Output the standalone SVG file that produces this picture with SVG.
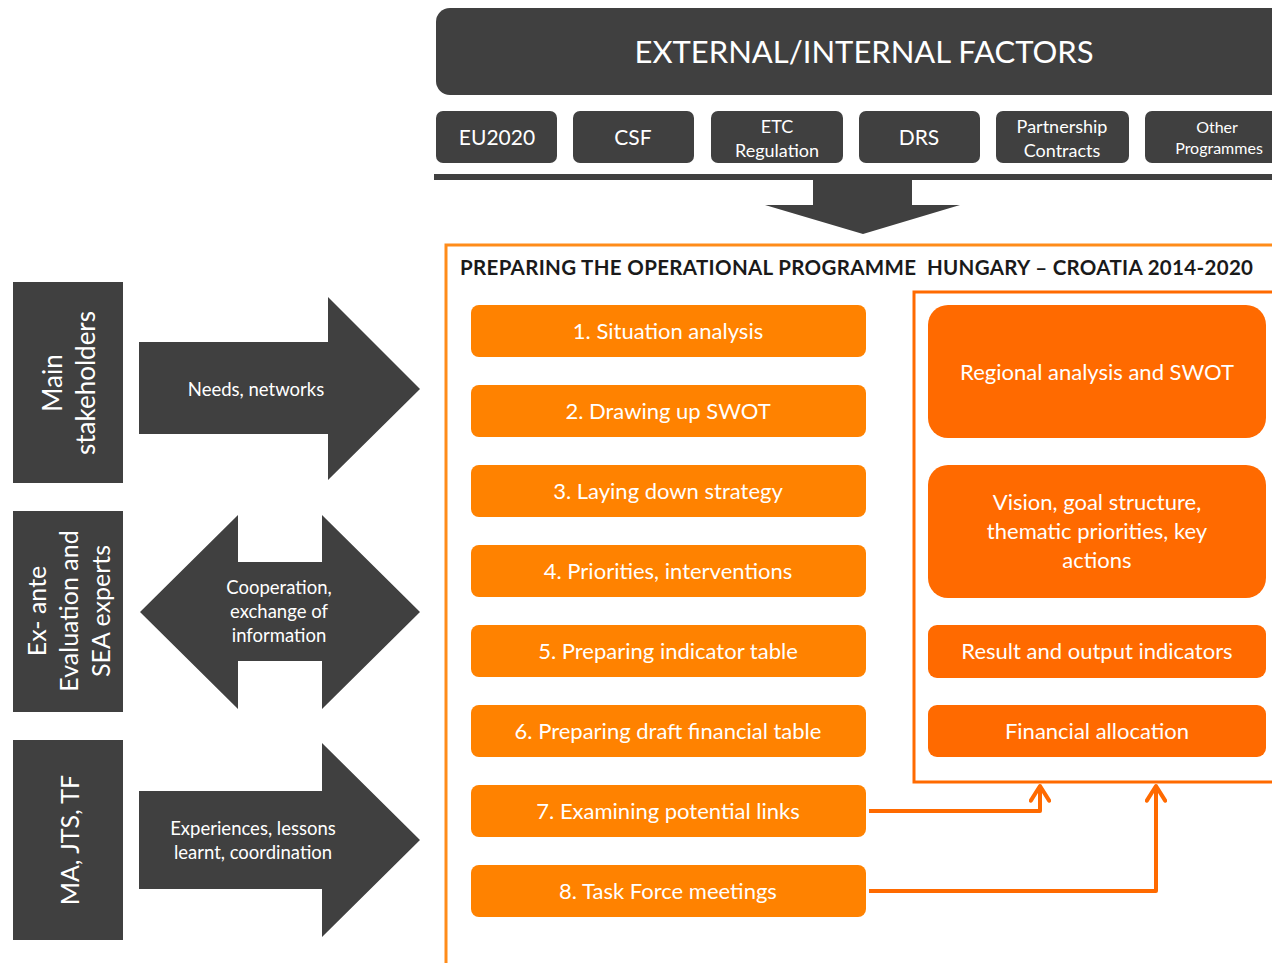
<svg xmlns="http://www.w3.org/2000/svg" width="1272" height="963" viewBox="0 0 1272 963">
<style>
text{font-family:Lato,"Liberation Sans",sans-serif;}
.dk{fill:#404040;}
.wt{fill:#ffffff;text-anchor:middle;}
.step{fill:#FF8200;}
.rbox{fill:#FF6A00;}
.f22{font-size:22px;}
.f21{font-size:21px;}
.f18{font-size:18px;}
.f19{font-size:18.5px;}
.conn{fill:none;stroke:#FF6A00;stroke-width:4;stroke-linejoin:round;}
</style>
<defs>
<marker id="ah" viewBox="0 0 12 12" refX="10" refY="6" markerWidth="5.5" markerHeight="5.5" orient="auto" markerUnits="strokeWidth">
<path d="M2,1 L10,6 L2,11" fill="none" stroke="#FF6A00" stroke-width="2.2" stroke-linecap="round" stroke-linejoin="round"/>
</marker>
</defs>
<rect width="1272" height="963" fill="#ffffff"/>

<g id="header">
<rect class="dk" x="436" y="8" width="850" height="87" rx="14"/>
<text class="wt" x="864" y="63" font-size="31">EXTERNAL/INTERNAL FACTORS</text>
</g>
<g id="f-eu2020"><rect class="dk" x="436" y="111" width="121" height="52" rx="7"/><text class="wt f21" x="497" y="145">EU2020</text></g>
<g id="f-csf"><rect class="dk" x="573" y="111" width="121" height="52" rx="7"/><text class="wt f21" x="633" y="145">CSF</text></g>
<g id="f-etc"><rect class="dk" x="711" y="111" width="132" height="52" rx="7"/><text class="wt f18" x="777" y="133">ETC</text><text class="wt f18" x="777" y="157">Regulation</text></g>
<g id="f-drs"><rect class="dk" x="859" y="111" width="121" height="52" rx="7"/><text class="wt f21" x="919" y="145">DRS</text></g>
<g id="f-partner"><rect class="dk" x="996" y="111" width="133" height="52" rx="7"/><text class="wt f18" x="1062" y="133">Partnership</text><text class="wt f18" x="1062" y="157">Contracts</text></g>
<g id="f-other"><rect class="dk" x="1145" y="111" width="140" height="52" rx="7"/><text class="wt" font-size="16" x="1217" y="133">Other</text><text class="wt" font-size="16" x="1219" y="154">Programmes</text></g>
<g id="down-arrow">
<rect class="dk" x="434" y="174" width="850" height="6"/>
<polygon class="dk" points="813,180 912,180 912,205 960,205 863,234 765,205 813,205"/>
</g>

<g id="op-frame">
<rect x="446" y="245" width="840" height="730" fill="none" stroke="#FF8C1A" stroke-width="3"/>
<text x="460" y="275" font-size="20.5" font-weight="bold" fill="#1a1a1a" textLength="793" lengthAdjust="spacing" xml:space="preserve">PREPARING THE OPERATIONAL PROGRAMME  HUNGARY – CROATIA 2014-2020</text>
</g>

<g id="step1"><rect class="step" x="471" y="305" width="395" height="52" rx="8"/><text class="wt f22" x="668" y="339">1. Situation analysis</text></g>
<g id="step2"><rect class="step" x="471" y="385" width="395" height="52" rx="8"/><text class="wt f22" x="668" y="419">2. Drawing up SWOT</text></g>
<g id="step3"><rect class="step" x="471" y="465" width="395" height="52" rx="8"/><text class="wt f22" x="668" y="499">3. Laying down strategy</text></g>
<g id="step4"><rect class="step" x="471" y="545" width="395" height="52" rx="8"/><text class="wt f22" x="668" y="579">4. Priorities, interventions</text></g>
<g id="step5"><rect class="step" x="471" y="625" width="395" height="52" rx="8"/><text class="wt f22" x="668" y="659">5. Preparing indicator table</text></g>
<g id="step6"><rect class="step" x="471" y="705" width="395" height="52" rx="8"/><text class="wt f22" x="668" y="739">6. Preparing draft financial table</text></g>
<g id="step7"><rect class="step" x="471" y="785" width="395" height="52" rx="8"/><text class="wt f22" x="668" y="819">7. Examining potential links</text></g>
<g id="step8"><rect class="step" x="471" y="865" width="395" height="52" rx="8"/><text class="wt f22" x="668" y="899">8. Task Force meetings</text></g>

<g id="inner-frame">
<rect x="914" y="292" width="380" height="490" fill="none" stroke="#FF6A00" stroke-width="3"/>
</g>
<g id="r-regional"><rect class="rbox" x="928" y="305" width="338" height="133" rx="20"/><text class="wt f22" x="1097" y="380">Regional analysis and SWOT</text></g>
<g id="r-vision"><rect class="rbox" x="928" y="465" width="338" height="133" rx="20"/><text class="wt f22" x="1097" y="510">Vision, goal structure,</text><text class="wt f22" x="1097" y="539">thematic priorities, key</text><text class="wt f22" x="1097" y="568">actions</text></g>
<g id="r-result"><rect class="rbox" x="928" y="625" width="338" height="53" rx="9"/><text class="wt f22" x="1097" y="659">Result and output indicators</text></g>
<g id="r-financial"><rect class="rbox" x="928" y="705" width="338" height="52" rx="9"/><text class="wt f22" x="1097" y="739">Financial allocation</text></g>

<g id="connectors">
<path class="conn" d="M869,811 L1040,811 L1040,786" marker-end="url(#ah)"/>
<path class="conn" d="M869,891 L1156,891 L1156,786" marker-end="url(#ah)"/>
</g>

<g id="main-stakeholders">
<rect class="dk" x="13" y="282" width="110" height="201"/>
<text class="wt" font-size="26" transform="translate(62,383) rotate(-90)">Main</text>
<text class="wt" font-size="26" transform="translate(95,383) rotate(-90)">stakeholders</text>
</g>
<g id="arrow-needs">
<polygon class="dk" points="139,342 328,342 328,297 420,389 328,480 328,434 139,434"/>
<text class="wt f19" x="256" y="396">Needs, networks</text>
</g>

<g id="ex-ante">
<rect class="dk" x="13" y="511" width="110" height="201"/>
<text class="wt" font-size="25" transform="translate(46,611) rotate(-90)">Ex- ante</text>
<text class="wt" font-size="25" transform="translate(78,611) rotate(-90)">Evaluation and</text>
<text class="wt" font-size="25" transform="translate(110,611) rotate(-90)">SEA experts</text>
</g>
<g id="arrow-cooperation">
<polygon class="dk" points="140,612 238,515 238,562 322,562 322,515 420,612 322,709 322,661 238,661 238,709"/>
<text class="wt f19" x="279" y="594">Cooperation,</text>
<text class="wt f19" x="279" y="618">exchange of</text>
<text class="wt f19" x="279" y="642">information</text>
</g>

<g id="ma-jts">
<rect class="dk" x="13" y="740" width="110" height="200"/>
<text class="wt" font-size="25" transform="translate(79,840) rotate(-90)">MA, JTS, TF</text>
</g>
<g id="arrow-experiences">
<polygon class="dk" points="139,791 322,791 322,743 420,840 322,937 322,889 139,889"/>
<text class="wt f19" x="253" y="835">Experiences, lessons</text>
<text class="wt f19" x="253" y="859">learnt, coordination</text>
</g>
</svg>
